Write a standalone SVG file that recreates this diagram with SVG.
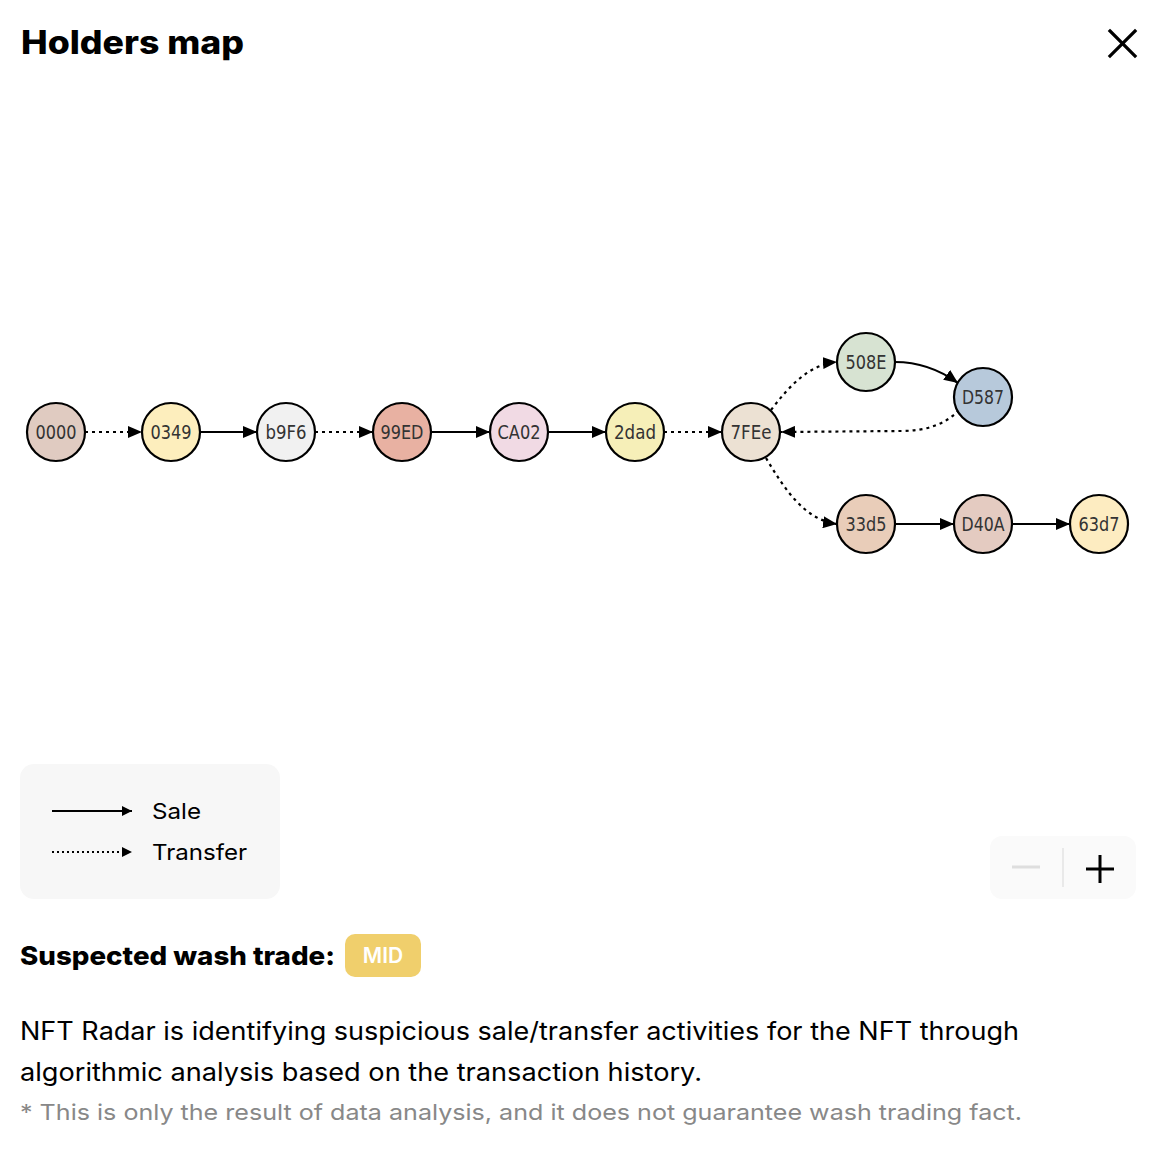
<svg xmlns="http://www.w3.org/2000/svg" width="1166" height="1164" viewBox="0 0 1166 1164">
<defs>
<marker id="ah" markerUnits="userSpaceOnUse" markerWidth="14" markerHeight="12" refX="14" refY="6" orient="auto">
<path d="M0,0 L14,6 L0,12 z" fill="#000"/>
</marker>
<marker id="lh" markerUnits="userSpaceOnUse" markerWidth="10" markerHeight="10" refX="10" refY="5" orient="auto">
<path d="M0,0 L10,5 L0,10 z" fill="#000"/>
</marker>
<style>
.n circle{stroke:#000;stroke-width:2.2}
.n text{font-family:"DejaVu Sans Condensed","DejaVu Sans",sans-serif;font-size:19.5px;fill:#333;text-anchor:middle;dominant-baseline:central}
.sale{fill:none;stroke:#000;stroke-width:2.2;marker-end:url(#ah)}
.tr{fill:none;stroke:#000;stroke-width:2.2;stroke-dasharray:3 4;marker-end:url(#ah)}
.ui{font-family:Inter,"Liberation Sans",sans-serif}
</style>
</defs>
<rect width="1166" height="1164" fill="#fff"/>
<text class="ui" x="21" y="54" font-size="32" font-weight="800" fill="#000" textLength="223" lengthAdjust="spacingAndGlyphs">Holders map</text>
<g id="close" stroke="#000" stroke-width="3.2" stroke-linecap="square">
<line x1="1110" y1="31" x2="1135" y2="56"/>
<line x1="1135" y1="31" x2="1110" y2="56"/>
</g>
<g id="connectors">
<line class="tr" x1="85" y1="432" x2="142" y2="432"/>
<line class="sale" x1="200" y1="432" x2="257" y2="432"/>
<line class="tr" x1="315" y1="432" x2="373" y2="432"/>
<line class="sale" x1="431" y1="432" x2="490" y2="432"/>
<line class="sale" x1="548" y1="432" x2="606" y2="432"/>
<line class="tr" x1="664" y1="432" x2="722" y2="432"/>
<path class="tr" d="M771,410 C790,385 810,364 837,362"/>
<path class="sale" d="M895,362 C920,362 940,370 958,383"/>
<path class="tr" d="M959,410 C945,425 925,431 900,431 L781,432"/>
<path class="tr" d="M766,458 C785,490 805,520 837,524"/>
<line class="sale" x1="895" y1="524" x2="954" y2="524"/>
<line class="sale" x1="1012" y1="524" x2="1070" y2="524"/>
</g>
<g id="n0000" class="n"><circle cx="56" cy="432" r="29" fill="#e0cbc1"/><text x="56" y="432" textLength="41" lengthAdjust="spacingAndGlyphs">0000</text></g>
<g id="n0349" class="n"><circle cx="171" cy="432" r="29" fill="#fdeebd"/><text x="171" y="432" textLength="41" lengthAdjust="spacingAndGlyphs">0349</text></g>
<g id="nb9F6" class="n"><circle cx="286" cy="432" r="29" fill="#f1f1f1"/><text x="286" y="432" textLength="41" lengthAdjust="spacingAndGlyphs">b9F6</text></g>
<g id="n99ED" class="n"><circle cx="402" cy="432" r="29" fill="#e8b1a2"/><text x="402" y="432" textLength="43" lengthAdjust="spacingAndGlyphs">99ED</text></g>
<g id="nCA02" class="n"><circle cx="519" cy="432" r="29" fill="#f1dae4"/><text x="519" y="432" textLength="43" lengthAdjust="spacingAndGlyphs">CA02</text></g>
<g id="n2dad" class="n"><circle cx="635" cy="432" r="29" fill="#f6efb8"/><text x="635" y="432" textLength="42" lengthAdjust="spacingAndGlyphs">2dad</text></g>
<g id="n7FEe" class="n"><circle cx="751" cy="432" r="29" fill="#ece1d3"/><text x="751" y="432" textLength="41" lengthAdjust="spacingAndGlyphs">7FEe</text></g>
<g id="n508E" class="n"><circle cx="866" cy="362" r="29" fill="#d7e3d2"/><text x="866" y="362" textLength="41" lengthAdjust="spacingAndGlyphs">508E</text></g>
<g id="nD587" class="n"><circle cx="983" cy="397" r="29" fill="#b7c9db"/><text x="983" y="397" textLength="42" lengthAdjust="spacingAndGlyphs">D587</text></g>
<g id="n33d5" class="n"><circle cx="866" cy="524" r="29" fill="#e9cdb9"/><text x="866" y="524" textLength="41" lengthAdjust="spacingAndGlyphs">33d5</text></g>
<g id="nD40A" class="n"><circle cx="983" cy="524" r="29" fill="#e4cbc1"/><text x="983" y="524" textLength="43" lengthAdjust="spacingAndGlyphs">D40A</text></g>
<g id="n63d7" class="n"><circle cx="1099" cy="524" r="29" fill="#fdecc1"/><text x="1099" y="524" textLength="41" lengthAdjust="spacingAndGlyphs">63d7</text></g>
<g id="legend">
<rect x="20" y="764" width="260" height="135" rx="14" fill="#f7f7f7"/>
<line x1="52" y1="811" x2="132" y2="811" stroke="#000" stroke-width="2" marker-end="url(#lh)"/>
<line x1="52" y1="852" x2="132" y2="852" stroke="#000" stroke-width="2" stroke-dasharray="2 3" marker-end="url(#lh)"/>
<text class="ui" x="152" y="819" font-size="22" fill="#000" textLength="49" lengthAdjust="spacingAndGlyphs">Sale</text>
<text class="ui" x="152" y="860" font-size="22" fill="#000" textLength="95" lengthAdjust="spacingAndGlyphs">Transfer</text>
</g>
<g id="zoom">
<rect x="990" y="836" width="146" height="63" rx="12" fill="#fafafa"/>
<line x1="1012" y1="867" x2="1040" y2="867" stroke="#dedede" stroke-width="3"/>
<line x1="1063" y1="848" x2="1063" y2="887" stroke="#e3e3e3" stroke-width="1.5"/>
<line x1="1086" y1="869" x2="1114" y2="869" stroke="#000" stroke-width="3"/>
<line x1="1100" y1="855" x2="1100" y2="883" stroke="#000" stroke-width="3"/>
</g>
<text class="ui" x="20" y="965" font-size="26" font-weight="800" fill="#000" textLength="315" lengthAdjust="spacingAndGlyphs">Suspected wash trade:</text>
<rect x="345" y="934" width="76" height="43" rx="10" fill="#f0cf6c"/>
<text class="ui" x="383" y="963" font-size="21" font-weight="600" fill="#fff" text-anchor="middle">MID</text>
<text class="ui" x="20" y="1040" font-size="25" fill="#000" textLength="999" lengthAdjust="spacingAndGlyphs">NFT Radar is identifying suspicious sale/transfer activities for the NFT through</text>
<text class="ui" x="20" y="1081" font-size="25" fill="#000" textLength="682" lengthAdjust="spacingAndGlyphs">algorithmic analysis based on the transaction history.</text>
<text class="ui" x="20" y="1120" font-size="22" fill="#888" textLength="1002" lengthAdjust="spacingAndGlyphs">* This is only the result of data analysis, and it does not guarantee wash trading fact.</text>
</svg>
